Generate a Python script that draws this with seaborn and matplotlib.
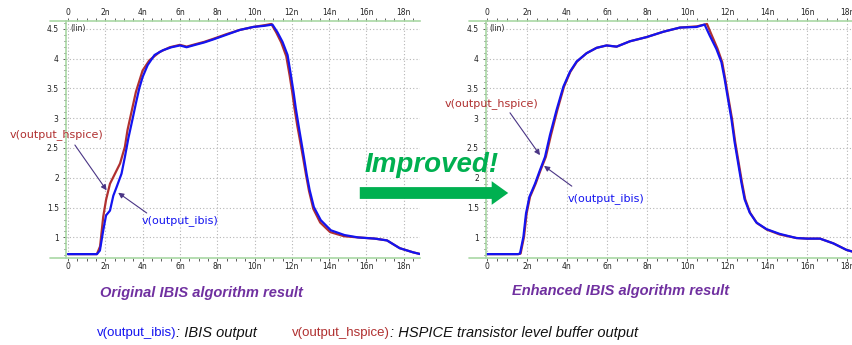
import numpy as np
import pandas as pd
import matplotlib
matplotlib.use('Agg')
import matplotlib.pyplot as plt
from matplotlib.ticker import MultipleLocator, FuncFormatter
from matplotlib.lines import Line2D
import seaborn as sns

# ---------------- data (time in ns, voltage in V) ----------------
t_left_ibis = [0, 1.55, 1.71, 1.89, 2.04, 2.25, 2.43, 2.6, 2.87, 3.05, 3.24, 3.45, 3.64, 3.82, 4.0,
               4.27, 4.64, 5.09, 5.55, 6.0, 6.36, 6.82, 7.3, 7.78, 8.5, 9.21, 9.93, 10.55, 10.96,
               11.23, 11.5, 11.77, 11.95, 12.09, 12.21, 12.37, 12.5, 12.65, 12.8, 12.95, 13.18,
               13.55, 14.09, 14.82, 15.55, 16.45, 17.1, 17.78, 18.5, 18.9]
v_left_ibis = [0.72, 0.72, 0.78, 1.12, 1.37, 1.45, 1.70, 1.84, 2.07, 2.35, 2.67, 2.97, 3.25, 3.50, 3.69,
               3.89, 4.06, 4.14, 4.19, 4.22, 4.19, 4.23, 4.27, 4.32, 4.40, 4.48, 4.53, 4.55, 4.57,
               4.44, 4.28, 4.06, 3.72, 3.44, 3.17, 2.86, 2.62, 2.34, 2.05, 1.80, 1.51,
               1.29, 1.12, 1.04, 1.00, 0.98, 0.95, 0.82, 0.75, 0.72]

t_left_hspice = [0, 1.55, 1.72, 1.89, 2.04, 2.25, 2.52, 2.79, 3.05, 3.19, 3.4, 3.64, 4.0, 4.36,
                 4.91, 5.46, 6.0, 6.36, 6.82, 7.3, 7.78, 8.5, 9.21, 9.93, 10.55, 10.9, 11.16, 11.43,
                 11.7, 11.88, 12.02, 12.14, 12.3, 12.44, 12.6, 12.76, 12.92, 13.15, 13.52, 14.05,
                 14.8, 15.55, 16.45, 17.1, 17.78, 18.5, 18.9]
v_left_hspice = [0.72, 0.72, 0.85, 1.35, 1.63, 1.90, 2.07, 2.24, 2.52, 2.80, 3.10, 3.44, 3.80, 3.97,
                 4.11, 4.19, 4.23, 4.20, 4.24, 4.28, 4.33, 4.41, 4.48, 4.53, 4.56, 4.58, 4.44, 4.27,
                 4.04, 3.72, 3.44, 3.17, 2.86, 2.62, 2.34, 2.05, 1.78, 1.48, 1.25, 1.09,
                 1.02, 1.00, 0.98, 0.95, 0.82, 0.75, 0.72]

t_right_ibis = [0, 1.55, 1.65, 1.82, 1.95, 2.12, 2.4, 2.65, 2.9, 3.15, 3.48, 3.82, 4.15, 4.48, 4.98,
                5.48, 5.98, 6.48, 7.15, 7.98, 8.82, 9.65, 10.47, 10.88, 11.13, 11.47, 11.72, 11.88,
                12.05, 12.22, 12.38, 12.55, 12.72, 12.88, 13.13, 13.47, 13.97, 14.63, 15.47, 16.0,
                16.65, 17.32, 17.98, 18.3]
v_right_ibis = [0.72, 0.72, 0.73, 1.01, 1.40, 1.68, 1.90, 2.13, 2.35, 2.72, 3.14, 3.53, 3.78, 3.95, 4.09,
                4.18, 4.22, 4.20, 4.29, 4.36, 4.45, 4.52, 4.53, 4.57, 4.39, 4.16, 3.94, 3.66,
                3.32, 2.99, 2.60, 2.26, 1.92, 1.64, 1.42, 1.25, 1.14, 1.06, 0.99, 0.98,
                0.98, 0.90, 0.79, 0.76]

t_right_hspice = [0, 1.58, 1.68, 1.85, 1.98, 2.15, 2.43, 2.68, 2.94, 3.2, 3.52, 3.85, 4.17, 4.5, 4.98,
                  5.48, 5.98, 6.48, 7.15, 7.98, 8.82, 9.65, 10.5, 11.0, 11.2, 11.52, 11.76, 11.91,
                  12.08, 12.25, 12.41, 12.58, 12.75, 12.91, 13.16, 13.5, 14.0, 14.63, 15.47, 16.0,
                  16.65, 17.32, 17.98, 18.3]
v_right_hspice = [0.72, 0.72, 0.73, 1.01, 1.40, 1.68, 1.90, 2.13, 2.35, 2.72, 3.14, 3.53, 3.78, 3.95, 4.09,
                  4.18, 4.22, 4.20, 4.29, 4.36, 4.45, 4.52, 4.54, 4.58, 4.42, 4.17, 3.94, 3.66,
                  3.32, 2.99, 2.60, 2.26, 1.92, 1.64, 1.41, 1.24, 1.13, 1.05, 0.99, 0.98,
                  0.98, 0.90, 0.79, 0.76]

x_major_step = 2
x_minor_step = 0.5
y_major_step = 0.5
y_minor_step = 0.1

label_ibis = 'v(output_ibis)'
label_hspice = 'v(output_hspice)'
caption_left = 'Original IBIS algorithm result'
caption_right = 'Enhanced IBIS algorithm result'
banner = 'Improved!'
legend_ibis_desc = ': IBIS output'
legend_hspice_desc = ': HSPICE transistor level buffer output'

# ---------------- styling ----------------
sns.set_theme(style='white')
plt.rcParams['font.family'] = ['DejaVu Sans']

BLUE = '#1414f0'
RED = '#b03030'
AX_GREEN = '#a9d8a4'
GRID = '#b5b5b5'
ARROW = '#4a3585'
GREEN = '#00b050'
PURPLE = '#7030a0'

W, H = 852, 345
fig = plt.figure(figsize=(W / 100, H / 100), dpi=100)
fig.patch.set_facecolor('white')


def px_rect(l, r, t, b):
    return [l / W, 1 - b / H, (r - l) / W, (b - t) / H]


def fmt_x(v, pos):
    if abs(v) < 1e-9:
        return '0'
    return f'{int(round(v))}n'


def style_axes(ax, xlim, ylim, line_left_px, ax_left_px, top_px, bottom_px):
    ax.set_xlim(*xlim)
    ax.set_ylim(*ylim)
    ax.set_facecolor('white')
    for s in ['left', 'top', 'bottom']:
        ax.spines[s].set_visible(True)
        ax.spines[s].set_color(AX_GREEN)
        ax.spines[s].set_linewidth(1.2)
    ax.spines['right'].set_visible(False)
    ax.xaxis.set_major_locator(MultipleLocator(x_major_step))
    ax.xaxis.set_minor_locator(MultipleLocator(x_minor_step))
    ax.yaxis.set_major_locator(MultipleLocator(y_major_step))
    ax.yaxis.set_minor_locator(MultipleLocator(y_minor_step))
    ax.xaxis.set_major_formatter(FuncFormatter(fmt_x))
    ax.yaxis.set_major_formatter(FuncFormatter(lambda v, p: f'{v:g}'))
    ax.tick_params(axis='x', which='both', top=True, bottom=True, labeltop=True, labelbottom=True,
                   direction='out', color='#444444', width=0.6, labelsize=5.5, labelcolor='#222222')
    ax.tick_params(axis='x', which='major', length=2.2, pad=1.0)
    ax.tick_params(axis='x', which='minor', length=2.2)
    ax.tick_params(axis='y', which='both', left=True, right=False, direction='out',
                   color='#444444', width=0.6, labelsize=5.5, labelcolor='#222222')
    ax.tick_params(axis='y', which='major', length=2.2, pad=3)
    ax.tick_params(axis='y', which='minor', length=1.2)
    ax.grid(True, which='major', color=GRID, linestyle=(0, (1, 2)), linewidth=0.8)
    ax.set_xlabel('')
    ax.set_ylabel('')
    for ypx in (top_px, bottom_px):
        fig.add_artist(Line2D([line_left_px / W, ax_left_px / W], [1 - ypx / H] * 2,
                              transform=fig.transFigure, color=AX_GREEN, lw=1.2))
    ax.text(0.12, 4.5, '(lin)', fontsize=5.5, color='#222222', va='center', ha='left')


def draw_curves(ax, t_h, v_h, t_i, v_i):
    dh = pd.DataFrame({'t': t_h, 'v': v_h})
    di = pd.DataFrame({'t': t_i, 'v': v_i})
    sns.lineplot(data=dh, x='t', y='v', ax=ax, color=RED, lw=1.6, sort=False, estimator=None)
    sns.lineplot(data=di, x='t', y='v', ax=ax, color=BLUE, lw=1.6, sort=False, estimator=None)


def label_arrow(ax, text, color, text_xy, tail, head):
    ax.text(*text_xy, text, color=color, fontsize=8, ha='center', va='center')
    ax.annotate('', xy=head, xytext=tail,
                arrowprops=dict(arrowstyle='-|>', color=ARROW, lw=0.8, mutation_scale=8,
                                shrinkA=0, shrinkB=0), annotation_clip=False)


# left chart
axL = fig.add_axes(px_rect(66, 420, 21, 258))
draw_curves(axL, t_left_hspice, v_left_hspice, t_left_ibis, v_left_ibis)
style_axes(axL, (-0.107, 18.87), (0.655, 4.63), 50, 66, 21, 258)
label_arrow(axL, label_hspice, RED, (-0.64, 2.72), (0.37, 2.55), (2.07, 1.79))
label_arrow(axL, label_ibis, BLUE, (5.99, 1.28), (4.22, 1.41), (2.69, 1.75))

# right chart
axR = fig.add_axes(px_rect(486, 852, 21, 258))
draw_curves(axR, t_right_hspice, v_right_hspice, t_right_ibis, v_right_ibis)
style_axes(axR, (-0.05, 18.25), (0.655, 4.63), 469, 486, 21, 258)
label_arrow(axR, label_hspice, RED, (0.23, 3.24), (1.15, 3.09), (2.65, 2.38))
label_arrow(axR, label_ibis, BLUE, (5.95, 1.66), (4.24, 1.86), (2.85, 2.2))

# "Improved!" banner and green arrow
fig.text(432 / W, 1 - 165 / H, banner, color=GREEN, fontsize=20, fontweight='bold',
         fontstyle='italic', family=['Liberation Sans', 'DejaVu Sans'], ha='center', va='center')
fig.add_artist(matplotlib.patches.FancyArrowPatch(
    (357 / W, 1 - 193 / H), (511 / W, 1 - 193 / H), transform=fig.transFigure,
    arrowstyle='simple, tail_width=0.5, head_width=1.0, head_length=0.7',
    mutation_scale=17, color=GREEN, lw=0))

# captions
for cx, cy, txt in ((201, 293, caption_left), (621, 291, caption_right)):
    fig.text(cx / W, 1 - cy / H, txt, color=PURPLE, fontsize=10.5, fontweight='bold',
             fontstyle='italic', family=['Liberation Sans', 'DejaVu Sans'], ha='center', va='center')

# bottom legend text
ly = 1 - 333 / H
fam = ['Liberation Sans', 'DejaVu Sans']
a1 = fig.text(97 / W, ly, label_ibis, color=BLUE, fontsize=9.5, family=fam, va='center')
a2 = fig.text(292 / W, ly, label_hspice, color=RED, fontsize=9.5, family=fam, va='center')
fig.canvas.draw()
r = fig.canvas.get_renderer()
bb = a1.get_window_extent(r)
fig.text(bb.x1 / W, ly, legend_ibis_desc, color='#111111', fontsize=10.5, fontstyle='italic',
         family=fam, va='center')
bb2 = a2.get_window_extent(r)
fig.text(bb2.x1 / W, ly, legend_hspice_desc, color='#111111', fontsize=10.5, fontstyle='italic',
         family=fam, va='center')

fig.savefig('out.png', dpi=100, facecolor='white')
